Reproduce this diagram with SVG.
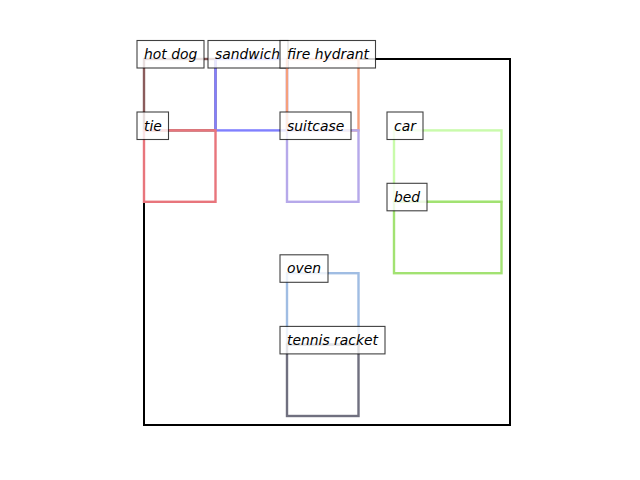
<svg xmlns="http://www.w3.org/2000/svg" width="640" height="480" viewBox="0 0 640 480">
<style>
.box{fill:none;stroke-width:2.4}
.lbl{fill:#ffffff;fill-opacity:0.8;stroke:#000000;stroke-opacity:0.75;stroke-width:1.1}
.txt{font-family:"DejaVu Sans",sans-serif;font-style:italic;font-size:13.9px;fill:#000000}
</style>
<rect width="640" height="480" fill="#ffffff"/>
<rect id="frame" x="144" y="59" width="366" height="366" fill="none" stroke="#000000" stroke-width="2"/>
<g id="connectors"/>
<g id="hot-dog">
<rect class="box" x="144" y="59" width="71.5" height="71.4" stroke="#8a5c5c"/>
<rect class="lbl" x="137" y="40.5" width="67" height="27.5"/>
<text class="txt" x="144" y="59">hot dog</text>
</g>
<g id="sandwich">
<rect class="box" x="215.5" y="59" width="71.5" height="71.4" stroke="#8080ff"/>
<rect class="lbl" x="208" y="40.5" width="80" height="27.5"/>
<text class="txt" x="215" y="59">sandwich</text>
</g>
<g id="fire-hydrant">
<rect class="box" x="287" y="59" width="71.5" height="71.4" stroke="#f5a07c"/>
<rect class="lbl" x="280" y="40.5" width="95.5" height="27.5"/>
<text class="txt" x="287" y="59">fire hydrant</text>
</g>
<g id="tie">
<rect class="box" x="144" y="130.4" width="71.5" height="71.4" stroke="#e8757c"/>
<rect class="lbl" x="137" y="112" width="31.5" height="27.5"/>
<text class="txt" x="144" y="130.5">tie</text>
</g>
<g id="suitcase">
<rect class="box" x="287" y="130.4" width="71.5" height="71.4" stroke="#b6a9ea"/>
<rect class="lbl" x="280" y="112" width="71" height="27.5"/>
<text class="txt" x="287" y="130.5">suitcase</text>
</g>
<g id="car">
<rect class="box" x="394" y="130.4" width="107.5" height="71.4" stroke="#c9fbab"/>
<rect class="lbl" x="387" y="112" width="36" height="27.5"/>
<text class="txt" x="394" y="130.5">car</text>
</g>
<g id="bed">
<rect class="box" x="394" y="201.8" width="107.5" height="71.4" stroke="#a2e272"/>
<rect class="lbl" x="387" y="183.3" width="40" height="27.5"/>
<text class="txt" x="394" y="201.8">bed</text>
</g>
<g id="oven">
<rect class="box" x="287" y="273.2" width="71.5" height="71.4" stroke="#a0bde3"/>
<rect class="lbl" x="280" y="254.8" width="48" height="27.5"/>
<text class="txt" x="287" y="273.2">oven</text>
</g>
<g id="tennis-racket">
<rect class="box" x="287" y="344.6" width="71.5" height="71.4" stroke="#70707f"/>
<rect class="lbl" x="280" y="326.4" width="105" height="27.5"/>
<text class="txt" x="287" y="344.6">tennis racket</text>
</g>
</svg>
